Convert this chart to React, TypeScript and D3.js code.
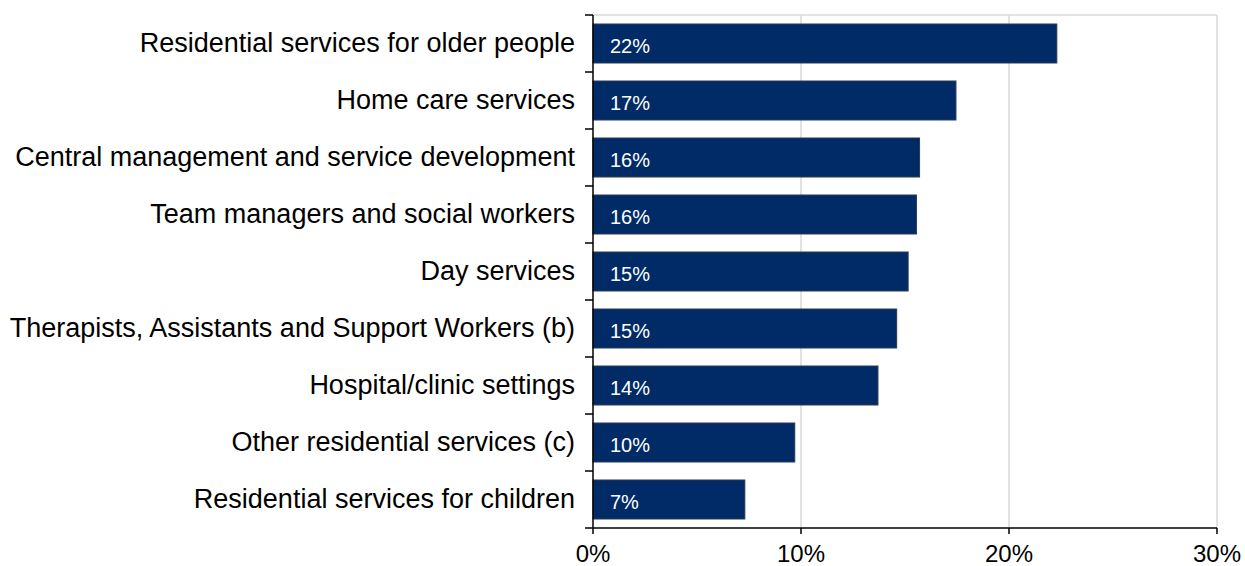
import * as d3 from 'd3';

const categories = [
  'Residential services for older people',
  'Home care services',
  'Central management and service development',
  'Team managers and social workers',
  'Day services',
  'Therapists, Assistants and Support Workers (b)',
  'Hospital/clinic settings',
  'Other residential services (c)',
  'Residential services for children',
];
const values = [22.3, 17.45, 15.7, 15.55, 15.15, 14.6, 13.7, 9.7, 7.3];
const valueLabels = ['22%', '17%', '16%', '16%', '15%', '15%', '14%', '10%', '7%'];
const xTicks = [0, 10, 20, 30];

const width = 1245;
const height = 566;
const margin = { top: 15, right: 28, bottom: 38, left: 593 };

export default function App() {
  const x = d3.scaleLinear().domain([0, 30]).range([margin.left, width - margin.right]);
  const y = d3
    .scaleBand<string>()
    .domain(categories)
    .range([margin.top, height - margin.bottom])
    .paddingInner(0.316)
    .paddingOuter(0.158);
  const step = y.step();
  const top = margin.top;
  const bottom = height - margin.bottom;
  const font = '"Liberation Sans", Arial, sans-serif';

  // band boundaries for y ticks
  const yTickPos = d3.range(categories.length + 1).map(i => top + i * step);

  return (
    <svg
      width={width}
      height={height}
      style={{ position: 'absolute', left: 0, top: 0, background: '#fff' }}
      fontFamily={font}
    >
      {/* plot frame top + gridlines */}
      <line x1={x(0)} x2={x(30)} y1={top} y2={top} stroke="#d9d9d9" strokeWidth={1.5} />
      {xTicks.filter(t => t > 0).map(t => (
        <line key={t} x1={x(t)} x2={x(t)} y1={top} y2={bottom} stroke="#d9d9d9" strokeWidth={1.5} />
      ))}

      {/* bars */}
      {categories.map((c, i) => (
        <rect
          key={c}
          x={x(0)}
          y={y(c)!}
          width={x(values[i]) - x(0)}
          height={y.bandwidth()}
          fill="#002b66"
          stroke="#2a3853"
          strokeWidth={1}
        />
      ))}

      {/* value labels */}
      {categories.map((c, i) => (
        <text
          key={c}
          x={x(0) + 17}
          y={y(c)! + y.bandwidth() / 2 + 9.5}
          fill="#fff"
          fontSize={20}
        >
          {valueLabels[i]}
        </text>
      ))}

      {/* axes */}
      <line x1={x(0)} x2={x(0)} y1={top} y2={bottom} stroke="#000" strokeWidth={1.5} />
      <line x1={x(0)} x2={x(30)} y1={bottom} y2={bottom} stroke="#000" strokeWidth={1.5} />
      {yTickPos.map((p, i) => (
        <line key={i} x1={x(0) - 8} x2={x(0)} y1={p} y2={p} stroke="#000" strokeWidth={1.5} />
      ))}
      {xTicks.map(t => (
        <line key={t} x1={x(t)} x2={x(t)} y1={bottom} y2={bottom + 6} stroke="#000" strokeWidth={1.5} />
      ))}

      {/* category labels */}
      {categories.map(c => (
        <text
          key={c}
          x={x(0) - 18}
          y={y(c)! + y.bandwidth() / 2 + 8}
          textAnchor="end"
          fontSize={27}
          fill="#000"
        >
          {c}
        </text>
      ))}

      {/* x tick labels */}
      {xTicks.map(t => (
        <text key={t} x={x(t)} y={height - 4} textAnchor="middle" fontSize={24} fill="#000">
          {`${t}%`}
        </text>
      ))}
    </svg>
  );
}
